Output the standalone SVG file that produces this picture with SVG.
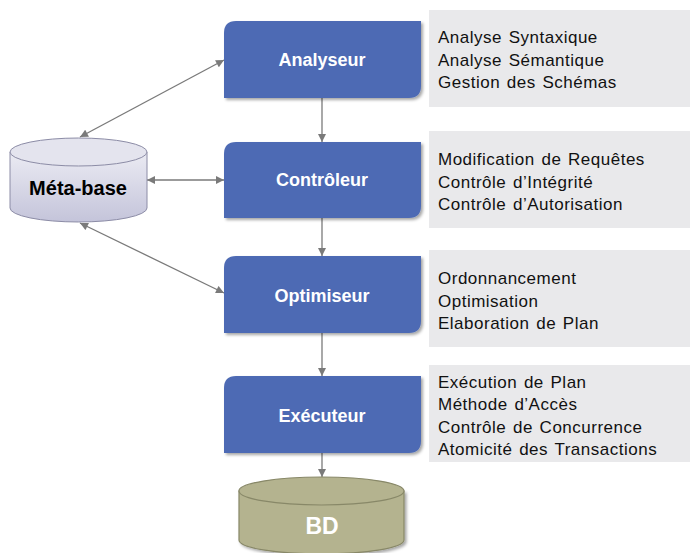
<svg xmlns="http://www.w3.org/2000/svg" width="690" height="553" viewBox="0 0 690 553">
<defs>
<style>
.panel{fill:#e9e9eb}
.box{fill:#4e6bb4;filter:url(#sh)}
.blabel{font-family:"Liberation Sans",Arial,sans-serif;font-weight:bold;font-size:18px;fill:#fff;text-anchor:middle}
.ptext{font-family:"Liberation Sans",Arial,sans-serif;font-size:17px;letter-spacing:0.5px;word-spacing:1.5px;fill:#111}
.conn{stroke:#7a7a7a;stroke-width:1.3;fill:none}
</style>
<filter id="sh" x="-10%" y="-10%" width="130%" height="140%">
<feDropShadow dx="2" dy="2" stdDeviation="1.5" flood-color="#000" flood-opacity="0.35"/>
</filter>
<linearGradient id="mg" x1="0" y1="0" x2="0" y2="1">
<stop offset="0" stop-color="#ebebf3"/>
<stop offset="1" stop-color="#c4c4da"/>
</linearGradient>
<marker id="ah" viewBox="0 0 10 10" refX="10" refY="5" markerWidth="10" markerHeight="8" markerUnits="userSpaceOnUse" orient="auto-start-reverse">
<path d="M0,0 L10,5 L0,10 Z" fill="#7a7a7a"/>
</marker>
</defs>
<rect width="690" height="553" fill="#fff"/>

<g id="panels">
<rect class="panel" x="429" y="10" width="261" height="97"/>
<rect class="panel" x="429" y="131" width="261" height="97"/>
<rect class="panel" x="429" y="250" width="261" height="97"/>
<rect class="panel" x="429" y="365" width="261" height="97"/>
</g>
<g id="panel-texts" class="ptext">
<text x="438" y="43">Analyse Syntaxique</text>
<text x="438" y="66">Analyse Sémantique</text>
<text x="438" y="88">Gestion des Schémas</text>
<text x="438" y="165">Modification de Requêtes</text>
<text x="438" y="188">Contrôle d’Intégrité</text>
<text x="438" y="210">Contrôle d’Autorisation</text>
<text x="438" y="284">Ordonnancement</text>
<text x="438" y="307">Optimisation</text>
<text x="438" y="329">Elaboration de Plan</text>
<text x="438" y="388">Exécution de Plan</text>
<text x="438" y="410">Méthode d’Accès</text>
<text x="438" y="433">Contrôle de Concurrence</text>
<text x="438" y="455">Atomicité des Transactions</text>
</g>

<g id="connectors">
<line class="conn" x1="322" y1="98" x2="322" y2="142" marker-end="url(#ah)"/>
<line class="conn" x1="322" y1="218" x2="322" y2="256" marker-end="url(#ah)"/>
<line class="conn" x1="322" y1="333" x2="322" y2="376" marker-end="url(#ah)"/>
<line class="conn" x1="322" y1="453" x2="322" y2="477" marker-end="url(#ah)"/>
<line class="conn" x1="80" y1="137" x2="224" y2="60" marker-start="url(#ah)" marker-end="url(#ah)"/>
<line class="conn" x1="147" y1="180" x2="224" y2="180" marker-start="url(#ah)" marker-end="url(#ah)"/>
<line class="conn" x1="80" y1="223" x2="224" y2="293" marker-start="url(#ah)" marker-end="url(#ah)"/>
</g>

<g id="analyseur">
<path class="box" d="M236 21 H421 V86 Q421 98 409 98 H224 V33 Q224 21 236 21 Z"/>
<text class="blabel" x="322" y="66">Analyseur</text>
</g>
<g id="controleur">
<path class="box" d="M236 142 H421 V206 Q421 218 409 218 H224 V154 Q224 142 236 142 Z"/>
<text class="blabel" x="322" y="186">Contrôleur</text>
</g>
<g id="optimiseur">
<path class="box" d="M236 256 H421 V321 Q421 333 409 333 H224 V268 Q224 256 236 256 Z"/>
<text class="blabel" x="322" y="302">Optimiseur</text>
</g>
<g id="executeur">
<path class="box" d="M236 376 H421 V441 Q421 453 409 453 H224 V388 Q224 376 236 376 Z"/>
<text class="blabel" x="322" y="422">Exécuteur</text>
</g>

<g id="meta-base">
<path d="M10 152 V208 A68.5 14 0 0 0 147 208 V152 Z" fill="url(#mg)" stroke="#8c8ca6" stroke-width="1"/>
<ellipse cx="78.5" cy="152" rx="68.5" ry="14" fill="#e4e4ee" stroke="#8c8ca6" stroke-width="1"/>
<text x="78" y="195" font-family="Liberation Sans, Arial, sans-serif" font-weight="bold" font-size="20" fill="#000" text-anchor="middle">Méta-base</text>
</g>

<g id="bd">
<path d="M239 491 V540 A82.5 14 0 0 0 404 540 V491 Z" fill="#b4b38f" stroke="#888868" stroke-width="1.2" filter="url(#sh)"/>
<ellipse cx="321.5" cy="491" rx="82.5" ry="14" fill="#b4b38f" stroke="#888868" stroke-width="1.2"/>
<text x="322" y="534" font-family="Liberation Sans, Arial, sans-serif" font-weight="bold" font-size="23" fill="#fff" text-anchor="middle">BD</text>
</g>
</svg>
